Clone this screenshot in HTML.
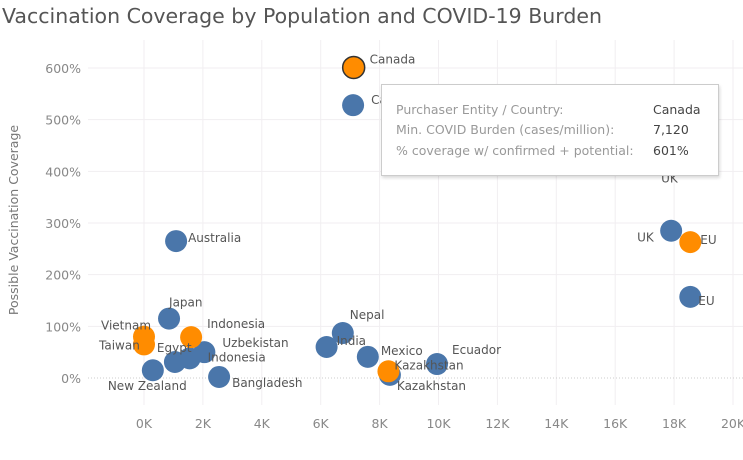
<!DOCTYPE html>
<html><head><meta charset="utf-8"><style>
body{margin:0;background:#fff;font-family:"DejaVu Sans","Liberation Sans",sans-serif;}
#wrap{position:relative;width:743px;height:460px;overflow:hidden;}
#title{position:absolute;left:2px;top:4px;font-size:20.5px;color:#555;white-space:nowrap;}
#tip{position:absolute;left:381px;top:84px;width:336px;height:90px;border:1px solid #ccc;background:#fff;box-shadow:1px 2px 3px rgba(0,0,0,.15);font-size:12.5px;color:#999;}
#tip div{position:absolute;white-space:nowrap;}
#tip b{font-weight:normal;color:#444;}
</style></head><body>
<div id="wrap">
<div id="title">Vaccination Coverage by Population and COVID-19 Burden</div>
<svg id="svg" width="743" height="460" style="position:absolute;left:0;top:0"></svg>
<div id="tip">
<div style="left:14px;top:17px">Purchaser Entity / Country:</div><div style="left:271px;top:17px"><b>Canada</b></div>
<div style="left:14px;top:37px">Min. COVID Burden (cases/million):</div><div style="left:271px;top:37px"><b>7,120</b></div>
<div style="left:14px;top:58px">% coverage w/ confirmed + potential:</div><div style="left:271px;top:58px"><b>601%</b></div>
</div>
</div>
<script>
const names=["Canada","Australia","Japan","New Zealand","Egypt","Indonesia","Uzbekistan","Bangladesh","India","Nepal","Mexico","Kazakhstan","Ecuador","UK","EU","Canada","Vietnam","Taiwan","Indonesia","Kazakhstan","UK","EU"];
const burdenK=[7.1,1.09,0.85,0.3,1.05,1.55,2.05,2.55,6.2,6.75,7.6,8.35,9.95,17.9,18.55,7.12,0.0,0.0,1.6,8.3,17.9,18.55];
const coverage=[528,265,115,15,31,38,50,2,60,87,41,6,27,285,157,601,80,65,79,13,285,263];
const series=["b","b","b","b","b","b","b","b","b","b","b","b","b","b","b","o","o","o","o","o","h","o"];
const xTicks=[0,2,4,6,8,10,12,14,16,18,20];
const yTicks=[0,100,200,300,400,500,600];
const labelOff=[[18,-2],[12,0],[0,-13],[-45,19],[-18,-11],[18,2],[18,-6],[13,9],[10,-3],[7,-15],[13,-3],[7,14],[15,-11],[-34,10],[8,7],[16,-5],[-43,-8],[-45,4],[16,-10],[6,-3],[-10,-49],[10,1]];
const X=k=>144+k*29.45, Y=p=>378-p*0.5167;
const svg=document.getElementById('svg'),NS='http://www.w3.org/2000/svg';
function mk(t,a){const e=document.createElementNS(NS,t);for(const k in a)e.setAttribute(k,a[k]);svg.appendChild(e);return e;}
xTicks.forEach(t=>{const l=mk('line',{x1:X(t),x2:X(t),y1:40,y2:405,stroke:'#f1eef1'});


const tx=mk('text',{x:X(t),y:428,'text-anchor':'middle','font-size':12.5,fill:'#888'});tx.textContent=t+'K';

});
yTicks.forEach(t=>{const l=mk('line',{x1:88,x2:743,y1:Y(t),y2:Y(t),stroke:t===0?'#ccc':'#f1eef1','stroke-dasharray':t===0?'1,2':''});


const tx=mk('text',{x:81,y:Y(t)+5,'text-anchor':'end','font-size':12.5,fill:'#888'});tx.textContent=t+'%';

});
const yt=mk('text',{x:0,y:0,transform:'translate(18,220) rotate(-90)','text-anchor':'middle','font-size':12.5,fill:'#777'});yt.textContent='Possible Vaccination Coverage';


names.forEach((n,i)=>{if(series[i]==='h')return;const cx=X(burdenK[i]),cy=Y(coverage[i]);
const c=mk('circle',{cx:cx,cy:cy,r:11,fill:series[i]==='o'?'#ff8c00':'#4a76aa',stroke:i===15?'#333':'none','stroke-width':1.5});

});
names.forEach((n,i)=>{const cx=X(burdenK[i]),cy=Y(coverage[i]);
const t=mk('text',{x:cx+labelOff[i][0],y:cy+labelOff[i][1]+1,'font-size':12,fill:'#555'});t.textContent=n;

});
</script>
</body></html>
